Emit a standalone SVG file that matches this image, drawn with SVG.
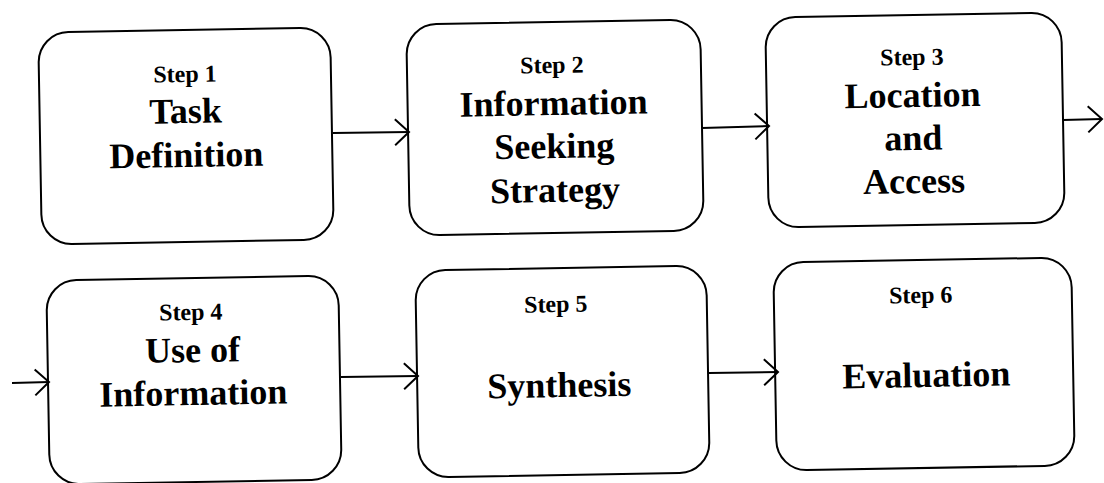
<svg xmlns="http://www.w3.org/2000/svg" width="1104" height="483" viewBox="0 0 1104 483">
<style>
.box{fill:#fff;stroke:#000;stroke-width:2}
.step{font-family:"Liberation Serif",serif;font-weight:bold;font-size:24px;text-anchor:middle;fill:#000}
.main{font-family:"Liberation Serif",serif;font-weight:bold;font-size:36px;text-anchor:middle;fill:#000}
.conn{stroke:#000;stroke-width:2;fill:none;marker-end:url(#arr)}
</style>
<defs>
<marker id="arr" markerUnits="userSpaceOnUse" markerWidth="20" markerHeight="30" viewBox="-16 -15 18 30" refX="0" refY="0" orient="auto">
<path d="M-14,-13 L0,0 L-14,13" fill="none" stroke="#000" stroke-width="2"/>
</marker>
</defs>
<rect width="1104" height="483" fill="#fff"/>
<g id="node1" transform="rotate(-1 186 136)">
<rect class="box" x="40" y="30" width="292" height="212" rx="30"/>
<text class="step" x="186" y="82">Step 1</text>
<text class="main" x="186" y="123">Task</text>
<text class="main" x="186" y="167">Definition</text>
</g>
<g id="node2" transform="rotate(-1 555 128)">
<rect class="box" x="408" y="22" width="294" height="211" rx="30"/>
<text class="step" x="553" y="73">Step 2</text>
<text class="main" x="554" y="115">Information</text>
<text class="main" x="554" y="158">Seeking</text>
<text class="main" x="554" y="202">Strategy</text>
</g>
<g id="node3" transform="rotate(-1 915 120)">
<rect class="box" x="767" y="15" width="296" height="210" rx="30"/>
<text class="step" x="913" y="65">Step 3</text>
<text class="main" x="913" y="107">Location</text>
<text class="main" x="913" y="150">and</text>
<text class="main" x="913" y="193">Access</text>
</g>
<g id="node4" transform="rotate(-1 194 380)">
<rect class="box" x="48" y="278" width="292" height="204" rx="30"/>
<text class="step" x="192" y="320">Step 4</text>
<text class="main" x="193" y="362">Use of</text>
<text class="main" x="193" y="405">Information</text>
</g>
<g id="node5" transform="rotate(-1 562 372)">
<rect class="box" x="417" y="268" width="291" height="207" rx="30"/>
<text class="step" x="557" y="312">Step 5</text>
<text class="main" x="559" y="397">Synthesis</text>
</g>
<g id="node6" transform="rotate(-1 924 364)">
<rect class="box" x="775" y="260" width="298" height="208" rx="30"/>
<text class="step" x="922" y="303">Step 6</text>
<text class="main" x="926" y="387">Evaluation</text>
</g>
<g id="connectors">
<path class="conn" d="M333,133 L409,132"/>
<path class="conn" d="M702,128 L769,126"/>
<path class="conn" d="M1063,120 L1102,119"/>
<path class="conn" d="M12,383 L49,382"/>
<path class="conn" d="M341,377 L418,376"/>
<path class="conn" d="M709,373 L778,372"/>
</g>
</svg>
